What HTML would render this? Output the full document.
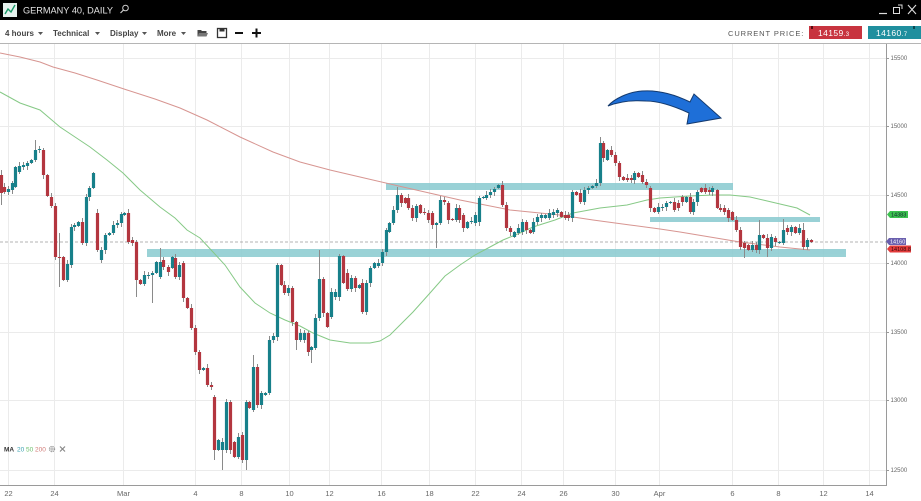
<!DOCTYPE html>
<html><head><meta charset="utf-8">
<style>
html,body{margin:0;padding:0;background:#fff;width:921px;height:501px;overflow:hidden}
svg{display:block;font-family:"Liberation Sans",sans-serif}
</style></head><body>
<svg id="s" width="921" height="501" viewBox="0 0 921 501" xmlns="http://www.w3.org/2000/svg">
<rect width="921" height="501" fill="#fff"/>
<!-- header -->
<rect x="0" y="0" width="921" height="20" fill="#000"/>
<rect x="3" y="3" width="14" height="14" fill="#e6f2ee"/>
<polyline points="5,14 8,9 11,12 15,5" fill="none" stroke="#1a9a6a" stroke-width="1.4"/>
<text x="23" y="13.5" fill="#e4e4e4" font-size="9" textLength="90" lengthAdjust="spacingAndGlyphs">GERMANY 40, DAILY</text>
<circle cx="125.5" cy="8" r="2.8" fill="none" stroke="#cfcfcf" stroke-width="1"/>
<line x1="123.5" y1="10" x2="120.5" y2="13" stroke="#cfcfcf" stroke-width="1.2"/>
<line x1="879" y1="13.5" x2="887" y2="13.5" stroke="#ddd" stroke-width="1.2"/>
<rect x="893.5" y="7.5" width="6" height="6" fill="none" stroke="#ddd" stroke-width="1"/>
<path d="M898 5 L902 5 L902 9" fill="none" stroke="#ddd" stroke-width="1"/>
<path d="M908 5 L916 14 M916 5 L908 14" stroke="#ddd" stroke-width="1.1"/>

<!-- toolbar -->
<g font-size="8" font-weight="bold" fill="#444">
<text x="5" y="36">4 hours</text>
<text x="53" y="36">Technical</text>
<text x="110" y="36">Display</text>
<text x="157" y="36">More</text>
</g>
<g fill="#555">
<polygon points="38,32 43,32 40.5,35"/>
<polygon points="95,32 100,32 97.5,35"/>
<polygon points="142,32 147,32 144.5,35"/>
<polygon points="181,32 186,32 183.5,35"/>
</g>
<path d="M197.5 30 L201 30 L202 31 L206.5 31 L206.5 36.5 L197.5 36.5 Z" fill="#444"/>
<path d="M199 33 L208 33 L206.5 36.5 L197.5 36.5 Z" fill="#777"/>
<rect x="217.5" y="28.5" width="9" height="9" fill="none" stroke="#333" stroke-width="1.3"/>
<rect x="219.5" y="28.5" width="5" height="3" fill="#333"/>
<line x1="235" y1="33" x2="243" y2="33" stroke="#111" stroke-width="2"/>
<line x1="252" y1="33" x2="261" y2="33" stroke="#111" stroke-width="2"/>
<line x1="256.5" y1="28.5" x2="256.5" y2="37.5" stroke="#111" stroke-width="2"/>
<text x="728" y="36" font-size="7.5" fill="#555" letter-spacing="0.9">CURRENT PRICE:</text>
<rect x="809" y="26" width="53" height="13" fill="#c8343f"/>
<rect x="811" y="26" width="2" height="3" fill="#5a0a10"/>
<text x="818" y="36" font-size="8.5" fill="#fff" letter-spacing="0.4">14159<tspan font-size="6">.3</tspan></text>
<rect x="868" y="26" width="53" height="13" fill="#1f8f9e"/>
<rect x="913" y="26" width="2" height="3" fill="#0b4a52"/>
<text x="876" y="36" font-size="8.5" fill="#fff" letter-spacing="0.4">14160<tspan font-size="6">.7</tspan></text>
<line x1="0" y1="43.5" x2="921" y2="43.5" stroke="#b5b5b5" stroke-width="1"/>

<!-- grid -->
<g id="grid" stroke="#ebebeb" stroke-width="1"></g>
<!-- axes -->
<line x1="886.5" y1="44" x2="886.5" y2="486" stroke="#9a9a9a" stroke-width="1"/>
<line x1="0" y1="485.5" x2="886" y2="485.5" stroke="#9a9a9a" stroke-width="1"/>
<g id="ylab" font-size="6" fill="#666"></g>
<g id="xlab" font-size="7.5" fill="#666" text-anchor="middle"></g>

<!-- zones -->
<g fill="#8fcdd2" opacity="0.9">
<rect x="386" y="183" width="347" height="7"/>
<rect x="147" y="249" width="699" height="8"/>
<rect x="650" y="217" width="170" height="5"/>
</g>

<!-- dashed current price -->
<line x1="0" y1="242" x2="886" y2="242" stroke="#9a9a9a" stroke-width="0.8" stroke-dasharray="3,2"/>

<!-- MAs -->
<polyline fill="none" stroke="#d79591" stroke-width="1" points="0,53 20,57 40,62 53,67 75,73 97,80 127,90 155,99 180,108 207,120 240,137 273,152 300,162 330,170 360,177 403,187 460,200 510,210 560,215 593,220 630,225 660,229 680,232 710,237 740,242 780,247 810,250"/>
<polyline fill="none" stroke="#86c986" stroke-width="1" points="0,92 20,103 40,110 60,127 75,137 90,147 107,160 123,173 140,190 160,207 175,218 187,230 200,238 213,252 225,265 240,287 255,303 270,313 285,320 300,326 313,333 330,340 350,343 370,343 380,341 390,335 400,325 413,312 430,293 445,276 460,265 475,255 490,247 503,240 520,233 533,227 555,220 573,213 600,208 627,205 647,200 660,198 690,196 713,195 730,195 750,197 763,200 780,204 797,208 810,215"/>

<!-- candles -->
<g id="candles"></g>

<!-- arrow -->
<path d="M608 106 C614 99 628 92 642 91 C656 90 672 93 690 102 L694 94 L721 118 L687 124 L689 113 C676 107 660 101 646 101 C632 100 618 102 608 106 Z" fill="#1e6fd8" stroke="#143a6e" stroke-width="1"/>

<!-- right flags -->
<path d="M887 214.5 L890 211 L908 211 L908 218 L890 218 Z" fill="#3cc24f"/>
<text x="891" y="216.6" font-size="5.5" fill="#123">14383</text>
<path d="M887 249 L890 245.5 L911 245.5 L911 252.5 L890 252.5 Z" fill="#e23b3b"/>
<text x="891" y="251.2" font-size="5.5" fill="#3a0a0a">14108.8</text>
<path d="M886 241.5 L889 238 L906 238 L906 245 L889 245 Z" fill="#6a5fae"/>
<text x="890" y="243.7" font-size="5.5" fill="#fff">14160</text>

<!-- legend -->
<g font-size="6.5">
<text x="4" y="451.5" font-weight="bold" fill="#333">MA</text>
<text x="17" y="451.5" fill="#3aa0b0">20</text>
<text x="26" y="451.5" fill="#6cbf6c">50</text>
<text x="35" y="451.5" fill="#d07a76">200</text>
</g>
<circle cx="52" cy="449" r="2.4" fill="none" stroke="#999" stroke-width="1.6" stroke-dasharray="1.2,0.7"/>
<circle cx="52" cy="449" r="0.9" fill="#999"/>
<path d="M60 446.5 L65 451.5 M65 446.5 L60 451.5" stroke="#888" stroke-width="1.2"/>
</svg>
<script>
(function(){
var NS='http://www.w3.org/2000/svg';
function el(parent,tag,attrs,txt){var e=document.createElementNS(NS,tag);for(var k in attrs)e.setAttribute(k,attrs[k]);if(txt!==undefined)e.textContent=txt;parent.appendChild(e);return e;}
var grid=document.getElementById('grid');
var ys=[[15500,58],[15000,126],[14500,195],[14000,263],[13500,332],[13000,400],[12500,470]];
var ylab=document.getElementById('ylab');
ys.forEach(function(p){
 el(grid,'line',{x1:0,y1:p[1]+.5,x2:886,y2:p[1]+.5});
 el(ylab,'line',{x1:886,y1:p[1]+.5,x2:889,y2:p[1]+.5,stroke:'#999','stroke-width':1});
 el(ylab,'text',{x:890.5,y:p[1]+2.2},String(p[0]));
});
var xs=[["22",8],["24",54],["Mar",123],["4",195],["8",241],["10",289],["12",329],["16",381],["18",429],["22",475],["24",521],["26",563],["30",615],["Apr",659],["6",732],["8",778],["12",823],["14",869]];
var xlab=document.getElementById('xlab');
xs.forEach(function(p){
 el(grid,'line',{x1:p[1]+.5,y1:44,x2:p[1]+.5,y2:485});
 el(xlab,'text',{x:p[1]+.5,y:496},p[0]);
});
var D=[
[1,175,193,170,205],[4,187,192],[8,192,189],[12,190,183],[15,187,167],[19,172,166],[23,167,165],[27,166,163],[31,163,160],[35,160,150,140],[39,150,149],[43,150,175],[47,175,196],[51,197,206],[55,206,257],[59,257,258,233,287],[63,257,280],[67,280,264],[71,265,227],[74,227,225],[78,226,222],[82,222,243],[86,243,197],[89,197,188],[93,188,173],[97,213,250],[101,260,250],[105,250,235],[109,235,233],[113,233,225],[117,225,223],[121,223,214],[124,215,213],[128,213,242],[132,240,243],[136,242,280,null,297],[140,280,284],[144,284,275],[148,276,275],[152,275,273,null,303],[156,273,262],[160,277,262,248],[163,260,267],[168,267,272],[172,268,257],[175,258,277],[179,277,265],[183,263,298],[187,298,308],[191,308,328],[195,328,352],[199,352,370],[203,370,368],[207,368,385],[211,385,387],[214,397,450,null,460],[218,450,440],[222,450,442,null,470],[226,450,402],[230,402,450],[234,442,457],[238,457,437],[242,435,460],[246,460,402,null,470],[249,402,408],[253,410,367,355],[257,367,405],[261,405,393],[265,395,393],[269,393,340],[273,340,336],[277,337,265],[281,265,285],[284,285,293],[288,293,288],[292,288,322],[296,322,340,null,350],[300,340,333],[304,340,333],[308,333,352],[311,350,347,null,363],[315,348,318],[319,318,279,250],[323,279,313],[327,313,327],[331,317,292],[335,297,292],[339,297,256],[343,256,283],[347,273,289],[351,289,278],[355,278,288],[359,288,285],[362,283,312],[366,312,283],[370,283,268],[374,268,263],[378,266,263],[382,263,252],[386,252,230],[389,232,223],[393,223,210],[397,210,195,187],[401,195,203],[405,198,203],[408,198,208],[412,208,218],[416,218,206],[420,205,213],[424,212,213],[428,213,220],[432,213,225],[436,225,223,null,248],[440,223,200],[444,200,202],[448,203,220],[452,219,220],[456,220,208],[459,208,220],[463,215,228],[467,228,222],[471,222,221],[475,223,215],[479,222,198],[483,198,197],[486,198,195],[490,195,192],[494,192,189],[498,188,185],[502,185,205],[506,205,228],[510,228,232],[514,237,232],[518,233,228],[522,232,222],[526,222,230],[530,230,233],[533,232,222],[537,222,217],[541,218,215],[545,218,215],[549,218,213],[553,215,212],[557,213,210],[561,212,217],[565,215,218],[568,215,218],[572,218,192],[576,192,195],[580,193,202],[584,202,190],[588,190,188],[592,188,186],[596,186,183],[600,183,143,137],[603,143,158],[607,160,150],[611,150,155],[615,155,163],[619,163,177],[623,177,180],[627,178,180],[631,178,180],[634,180,173],[638,173,177],[642,175,182],[646,182,185],[650,188,208],[654,208,212],[658,212,207],[662,208,207],[666,207,203],[670,203,202],[674,202,210],[678,203,208],[682,197,202],[686,202,197],[690,197,212],[693,212,202],[697,202,192],[701,188,192],[705,188,192],[709,190,192],[712,192,188],[717,190,208],[720,208,210],[724,208,212],[728,210,218],[732,212,220],[736,220,230],[740,230,247],[744,243,248,null,258],[748,245,250],[752,250,245],[756,245,250],[759,250,235,220],[763,235,238],[767,238,248,null,257],[771,248,237],[775,238,242],[779,243,242],[783,243,230,219],[787,228,232],[791,232,227],[795,227,233],[799,233,228],[803,230,247,223],[807,247,240,null,250],[811,240,242]
];
var cg=document.getElementById('candles');
D.forEach(function(d,i){
 var x=d[0],o=d[1],c=d[2];
 var top=Math.min(o,c),bot=Math.max(o,c);
 var h=(d[3]!=null)?d[3]:top-(1+(i*7)%4);
 var l=(d[4]!=null)?d[4]:bot+(1+(i*5)%4);
 var col=(c>o)?'#b3363f':'#17808a';
 el(cg,'line',{x1:x+.5,y1:h,x2:x+.5,y2:l,stroke:'#8a8a8a','stroke-width':1});
 el(cg,'rect',{x:x-1.1,y:top,width:3.2,height:Math.max(1,bot-top),fill:col});
});
})();
</script>
</body></html>
